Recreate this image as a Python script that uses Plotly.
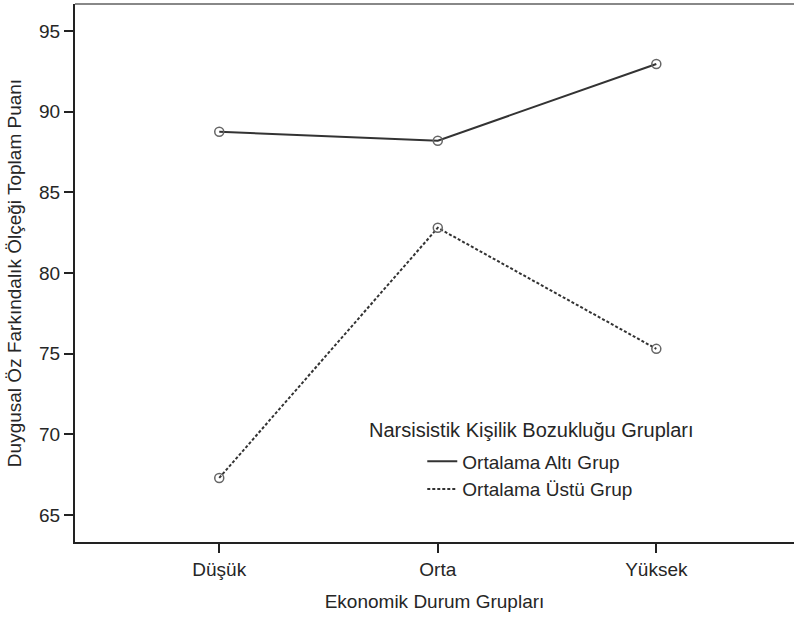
import plotly.graph_objects as go

# categories and group means
categories = ["Düşük", "Orta", "Yüksek"]
alti_grup = [88.75, 88.2, 92.95]
ustu_grup = [67.3, 82.8, 75.3]
y_ticks = [65, 70, 75, 80, 85, 90, 95]
series = [("Ortalama Altı Grup", alti_grup, "solid"),
          ("Ortalama Üstü Grup", ustu_grup, "3px,2px")]

font = "Liberation Sans, Arial, sans-serif"
ink = "#262626"

fig = go.Figure()
for name, vals, dash in series:
    # the plotted line, kept out of the legend so its sample has no marker
    fig.add_trace(go.Scatter(
        x=categories, y=vals, name=name, mode="lines+markers", showlegend=False,
        line=dict(color="#333333", width=2, dash=dash),
        marker=dict(symbol="circle-open", size=9, color="#666666", line=dict(width=1.5)),
    ))
    # legend entry: line sample only
    fig.add_trace(go.Scatter(
        x=[None], y=[None], name=name, mode="lines",
        line=dict(color="#333333", width=2, dash=dash),
    ))

fig.update_layout(
    width=794, height=617,
    margin=dict(l=75, r=0, t=4, b=75),
    plot_bgcolor="white", paper_bgcolor="white",
    font=dict(family=font, size=19, color=ink),
    showlegend=True,
    legend=dict(x=0.483, y=0.185, xanchor="left", yanchor="top",
                bgcolor="rgba(0,0,0,0)", font=dict(size=19, color=ink),
                tracegroupgap=0, itemwidth=30),
    annotations=[dict(text="Narsisistik Kişilik Bozukluğu Grupları", x=0.406, y=0.208,
                      xref="paper", yref="paper", xanchor="left", yanchor="middle",
                      showarrow=False, font=dict(size=20, color=ink))],
    shapes=[dict(type="line", xref="paper", yref="paper", x0=0, x1=1, y0=1, y1=1,
                 line=dict(color="#888888", width=2))],
)
fig.update_xaxes(
    type="category", range=[-0.66, 2.63],
    showline=True, linecolor="#222222", linewidth=2,
    ticks="outside", ticklen=9, tickcolor="#222222", tickwidth=2,
    showgrid=False, zeroline=False,
    title=dict(text="Ekonomik Durum Grupları", standoff=16, font=dict(size=19)),
)
fig.update_yaxes(
    range=[63.33, 96.67], tickvals=y_ticks,
    showline=True, linecolor="#222222", linewidth=2,
    ticks="outside", ticklen=9, tickcolor="#222222", tickwidth=2,
    showgrid=False, zeroline=False,
    title=dict(text="Duygusal Öz Farkındalık Ölçeği Toplam Puanı", standoff=12, font=dict(size=19)),
)

fig.write_html("out.html", config={"displayModeBar": False},
               post_script="document.body.style.margin='0';")
